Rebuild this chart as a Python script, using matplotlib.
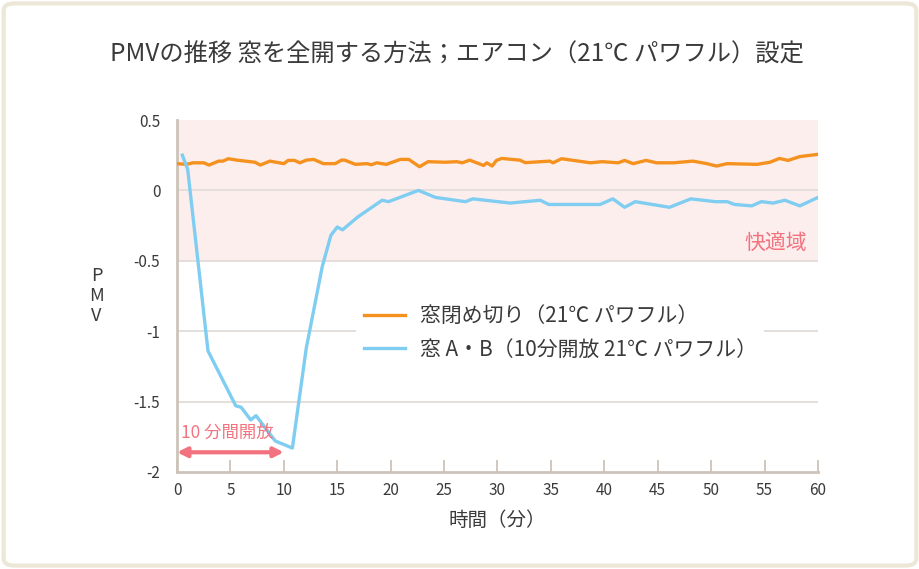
import matplotlib
matplotlib.use("Agg")
import matplotlib.pyplot as plt
from matplotlib.patches import FancyBboxPatch

plt.rcParams['font.family'] = ['Noto Sans CJK JP', 'DejaVu Sans']

# ---- data ----
closed_t = [0, 0.9, 1.5, 2.5, 3.0, 3.9, 4.3, 4.8, 5.6, 7.3, 7.8, 8.7, 10.0, 10.4, 11.0, 11.5,
            12.1, 12.8, 13.7, 14.8, 15.4, 15.7, 16.7, 17.8, 18.2, 18.7, 19.6, 20.3, 20.9,
            21.7, 22.7, 23.5, 25.1, 26.2, 26.7, 27.4, 28.7, 29.0, 29.5, 29.9, 30.4, 32.1,
            32.6, 34.9, 35.2, 36.0, 38.7, 39.8, 41.3, 41.9, 42.7, 43.9, 44.9, 46.5, 48.3,
            49.6, 50.5, 51.5, 54.3, 55.5, 56.4, 57.2, 58.3, 60.0]
closed_pmv = [0.19, 0.185, 0.196, 0.196, 0.18, 0.208, 0.208, 0.225, 0.215, 0.2, 0.18, 0.208,
              0.19, 0.213, 0.213, 0.196, 0.215, 0.22, 0.19, 0.19, 0.215, 0.215, 0.185, 0.19,
              0.182, 0.196, 0.185, 0.204, 0.22, 0.22, 0.168, 0.204, 0.20, 0.204, 0.196, 0.215,
              0.177, 0.196, 0.173, 0.213, 0.227, 0.215, 0.197, 0.208, 0.196, 0.225, 0.196,
              0.204, 0.196, 0.213, 0.19, 0.213, 0.196, 0.196, 0.208, 0.19, 0.173, 0.19, 0.185,
              0.20, 0.227, 0.213, 0.24, 0.256]

open_t = [0.5, 1.0, 2.9, 5.5, 6.0, 6.9, 7.4, 7.9, 9.2, 10.8, 12.1, 13.6, 14.4, 15.0, 15.5,
          16.9, 19.2, 19.8, 22.6, 24.2, 27.0, 27.7, 31.2, 34.0, 34.8, 36.8, 39.6, 40.8, 41.9,
          42.9, 46.1, 48.1, 50.4, 51.5, 52.2, 53.8, 54.7, 55.8, 56.9, 58.3, 60.0]
open_pmv = [0.25, 0.15, -1.14, -1.53, -1.54, -1.63, -1.60, -1.65, -1.78, -1.83, -1.12, -0.54,
            -0.32, -0.26, -0.28, -0.19, -0.07, -0.08, 0.0, -0.05, -0.08, -0.06, -0.09, -0.07,
            -0.10, -0.10, -0.10, -0.06, -0.12, -0.08, -0.12, -0.06, -0.08, -0.08, -0.10, -0.11,
            -0.08, -0.09, -0.07, -0.11, -0.05]

x_ticks = [0, 5, 10, 15, 20, 25, 30, 35, 40, 45, 50, 55, 60]
y_ticks = [0.5, 0, -0.5, -1, -1.5, -2]
y_tick_labels = ['0.5', '0', '-0.5', '-1', '-1.5', '-2']
comfort_zone = (-0.5, 0.5)
open_period = (0, 10)

label_closed = '窓閉め切り（21℃ パワフル）'
label_open = '窓 A・B（10分開放 21℃ パワフル）'
title = 'PMVの推移 窓を全開する方法；エアコン（21℃ パワフル）設定'

# ---- styles ----
ORANGE = '#f5921f'
BLUE = '#7fcdf1'
PINK = '#f2737f'
SHADE = '#fdeeee'
SPINE = '#cdc3b9'
GRID = '#e3dcd8'
TEXT = '#3a3a3a'

fig = plt.figure(figsize=(9.2, 5.69), dpi=100)
fig.patch.set_facecolor('white')

frame = FancyBboxPatch((0.004, 0.006), 0.992, 0.988,
                       boxstyle='round,pad=0,rounding_size=0.012',
                       transform=fig.transFigure, facecolor='white',
                       edgecolor='#ece7d6', linewidth=3, zorder=-5)
fig.patches.append(frame)

ax = fig.add_axes([0.1924, 0.1705, 0.6967, 0.6186])
ax.set_zorder(1)
ax.set_facecolor('none')
ax.set_xlim(0, 60)
ax.set_ylim(-2, 0.5)

ax.axhspan(comfort_zone[0], comfort_zone[1], color=SHADE, zorder=0, lw=0)
for y in [0, -0.5, -1, -1.5]:
    ax.axhline(y, color=GRID, lw=1.3, zorder=1)

ax.plot(closed_t, closed_pmv, color=ORANGE, lw=2.4, zorder=3, label=label_closed)
ax.plot(open_t, open_pmv, color=BLUE, lw=2.4, zorder=3, label=label_open)

for s in ['top', 'right']:
    ax.spines[s].set_visible(False)
for s in ['left', 'bottom']:
    ax.spines[s].set_color(SPINE)
    ax.spines[s].set_linewidth(2)

ax.set_xticks(x_ticks)
ax.set_xticklabels([str(v) for v in x_ticks])
ax.set_yticks(y_ticks)
ax.set_yticklabels(y_tick_labels)
ax.tick_params(axis='x', direction='in', length=9, width=1.3, color=SPINE,
               labelsize=11, labelcolor=TEXT, pad=7)
ax.tick_params(axis='y', length=0, labelsize=11, labelcolor=TEXT, pad=12)

ax.set_xlabel('時間（分）', fontsize=14, color=TEXT, labelpad=8)
fig.text(0.105, 0.48, 'P\nM\nV', fontsize=13, color=TEXT, ha='center', va='center',
         linespacing=1.15)

fig.text(0.497, 0.905, title, fontsize=17.5, color=TEXT, ha='center', va='center')

leg = ax.legend(loc='upper left', bbox_to_anchor=(0.28, 0.495), frameon=True,
                facecolor='white', edgecolor='none', framealpha=1, fontsize=15,
                handlelength=2.0, handletextpad=0.7, labelspacing=0.55,
                borderpad=0.35, borderaxespad=0, labelcolor=TEXT)
for h in leg.get_lines():
    h.set_linewidth(2.4)
leg.set_zorder(2)

ax.annotate('', xy=(open_period[0], -1.86), xytext=(open_period[1], -1.86),
            arrowprops=dict(arrowstyle='<|-|>', color=PINK, lw=3,
                            mutation_scale=14, shrinkA=0, shrinkB=0), zorder=4)
ax.text(0.4, -1.72, '10 分間開放', color=PINK, fontsize=12.5, ha='left', va='center',
        zorder=4)
ax.text(59.0, -0.37, '快適域', color=PINK, fontsize=15, ha='right', va='center', zorder=4)

fig.savefig('out.png', dpi=100)
